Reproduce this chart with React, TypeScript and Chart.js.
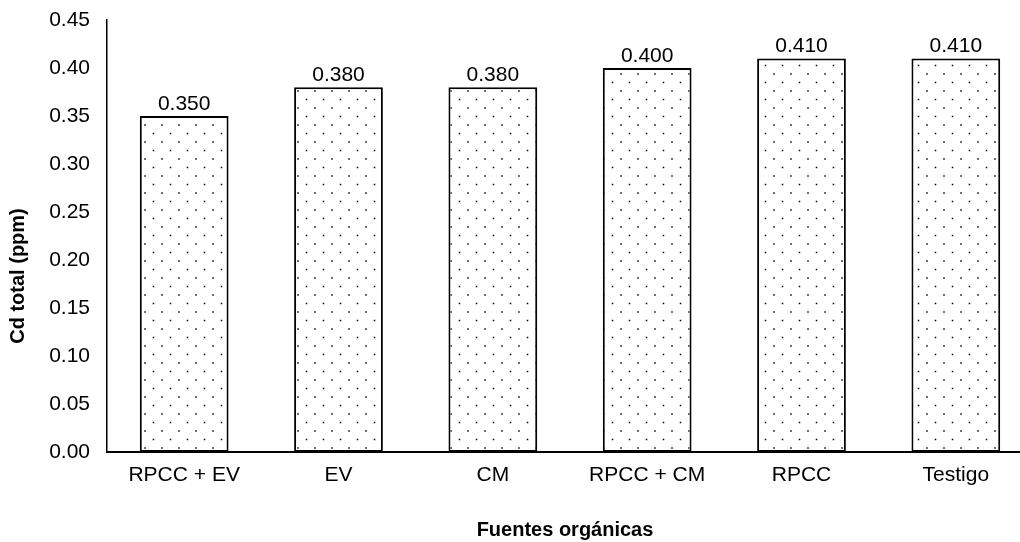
import React, { useEffect, useRef } from "react";
import { Chart, registerables } from "chart.js";

Chart.register(...registerables);

const categories: string[] = ["RPCC + EV", "EV", "CM", "RPCC + CM", "RPCC", "Testigo"];
const cdTotal: number[] = [0.35, 0.38, 0.38, 0.4, 0.41, 0.41];
const yTicks: number[] = [0, 0.05, 0.1, 0.15, 0.2, 0.25, 0.3, 0.35, 0.4, 0.45];
const xTitle = "Fuentes orgánicas";
const yTitle = "Cd total (ppm)";

const FONT = "'Liberation Sans', Arial, sans-serif";

function makePattern(): CanvasPattern | string {
  const c = document.createElement("canvas");
  c.width = 17;
  c.height = 17;
  const g = c.getContext("2d");
  if (!g) return "#fff";
  g.fillStyle = "#ffffff";
  g.fillRect(0, 0, 17, 17);
  g.fillStyle = "#000000";
  g.fillRect(8.25, 5.25, 1.5, 1.5);
  g.fillRect(-0.25, 13.75, 1.5, 1.5);
  g.fillRect(16.75, 13.75, 1.5, 1.5);
  const ctx = document.createElement("canvas").getContext("2d");
  const p = ctx ? ctx.createPattern(c, "repeat") : null;
  return p || "#fff";
}

const valueLabels = {
  id: "valueLabels",
  afterDatasetsDraw(chart: any) {
    const ctx = chart.ctx;
    const meta = chart.getDatasetMeta(0);
    ctx.save();
    ctx.font = `21px ${FONT}`;
    ctx.fillStyle = "#000";
    ctx.textAlign = "center";
    ctx.textBaseline = "alphabetic";
    meta.data.forEach((bar: any, i: number) => {
      ctx.fillText(cdTotal[i].toFixed(3), bar.x, bar.y - 6);
    });
    ctx.restore();
  },
};

const axisTitles = {
  id: "axisTitles",
  afterDraw(chart: any) {
    const ctx = chart.ctx;
    ctx.save();
    ctx.font = `bold 20px ${FONT}`;
    ctx.fillStyle = "#000";
    ctx.textAlign = "center";
    ctx.textBaseline = "middle";
    ctx.fillText(xTitle, 565, 530);
    ctx.translate(18, 276);
    ctx.rotate(-Math.PI / 2);
    ctx.fillText(yTitle, 0, 0);
    ctx.restore();
  },
};

export default function App() {
  const ref = useRef<HTMLCanvasElement | null>(null);

  useEffect(() => {
    if (!ref.current) return;
    const pattern = makePattern();
    const chart = new Chart(ref.current, {
      type: "bar",
      data: {
        labels: categories,
        datasets: [
          {
            data: cdTotal,
            backgroundColor: pattern as any,
            borderColor: "#000",
            borderWidth: 2,
            borderSkipped: false,
            categoryPercentage: 1,
            barPercentage: 0.575,
          },
        ],
      },
      options: {
        responsive: false,
        animation: false,
        devicePixelRatio: 1,
        layout: { padding: { top: 20, right: 7, bottom: 0, left: 0 } },
        plugins: {
          legend: { display: false },
          tooltip: { enabled: false },
        },
        scales: {
          x: {
            grid: { display: false, drawTicks: false },
            border: { display: true, color: "#000", width: 2 },
            ticks: {
              padding: 11,
              color: "#000",
              font: { family: FONT, size: 21 },
              maxRotation: 0,
              autoSkip: false,
            },
            afterFit: (s: any) => {
              s.height = 90;
            },
          },
          y: {
            min: 0,
            max: 0.45,
            grid: { display: false, drawTicks: true, tickLength: 17 },
            border: { display: true, color: "#000", width: 1.5 },
            afterBuildTicks: (s: any) => {
              s.ticks = yTicks.map((v) => ({ value: v }));
            },
            ticks: {
              padding: 0,
              color: "#000",
              font: { family: FONT, size: 21 },
              callback: (v: any) => Number(v).toFixed(2),
            },
            afterFit: (s: any) => {
              s.width = 107;
            },
          },
        },
      },
      plugins: [valueLabels, axisTitles],
    });
    return () => chart.destroy();
  }, []);

  return (
    <div
      style={{
        position: "fixed",
        left: 0,
        top: 0,
        width: 1020,
        height: 542,
        overflow: "hidden",
        background: "#fff",
      }}
    >
      <canvas
        ref={ref}
        width={1040}
        height={542}
        style={{ display: "block", width: 1040, height: 542 }}
      />
    </div>
  );
}
